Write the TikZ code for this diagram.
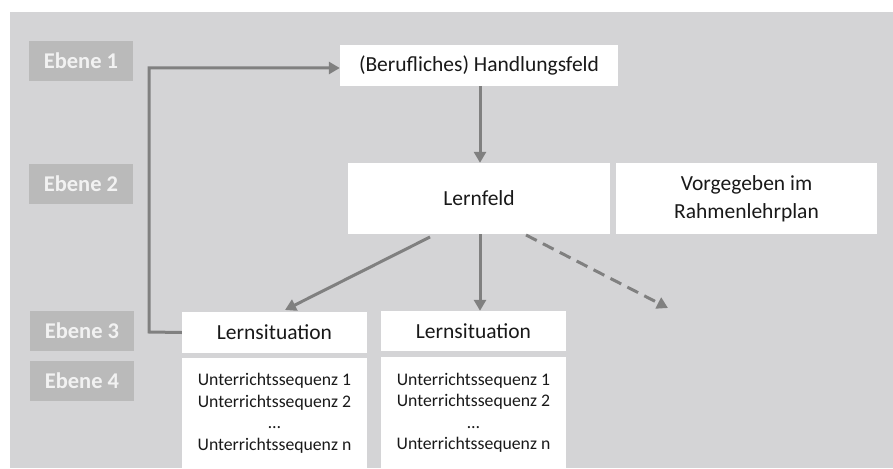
\documentclass[tikz,border=0pt]{standalone}
\usepackage{fontspec}
\setmainfont{Carlito}
\usetikzlibrary{arrows.meta}
\definecolor{bggray}{HTML}{D4D4D6}
\definecolor{lvgray}{HTML}{BABABA}
\definecolor{argray}{HTML}{808080}
\begin{document}
\begin{tikzpicture}[x=1pt,y=-1pt,
  level/.style={fill=lvgray,text=white!95!black,font=\fontsize{22.5}{26}\selectfont\bfseries,inner sep=0pt,minimum width=104pt,minimum height=40pt},
  wbox/.style={fill=white,inner sep=0pt,text=black!90,font=\fontsize{21.5}{28}\selectfont,align=center},
  seqbox/.style={fill=white,inner sep=0pt,text=black!90,font=\fontsize{17.7}{21.5}\selectfont,align=center},
  arr/.style={draw=argray,line width=3pt,-{Triangle[length=11pt,width=12pt]}}]
\useasboundingbox (0,0) rectangle (893,468);
\fill[bggray] (10,12) rectangle (893,468);
% level labels
\node[level] (e1) at (81,61) {Ebene 1};
\node[level] (e2) at (81,184) {Ebene 2};
\node[level] (e3) at (82,331) {Ebene 3};
\node[level] (e4) at (82,381) {Ebene 4};
% boxes
\node[wbox,minimum width=278pt,minimum height=41pt] (hf) at (479,65.5) {(Berufliches) Handlungsfeld};
\node[wbox,minimum width=262pt,minimum height=71pt] (lf) at (479,198.5) {Lernfeld};
\node[wbox,minimum width=261pt,minimum height=71pt] (vg) at (746.5,198.5) {Vorgegeben im\\Rahmenlehrplan};
\node[wbox,minimum width=185pt,minimum height=41pt] (ls1) at (274.5,332.5) {Lernsituation};
\node[wbox,minimum width=185pt,minimum height=40pt] (ls2) at (473.5,331) {Lernsituation};
\node[seqbox,minimum width=185pt,minimum height=110pt,anchor=north] (sq1) at (274.5,358) {Unterrichtssequenz 1\\Unterrichtssequenz 2\\…\\Unterrichtssequenz n};
\node[seqbox,minimum width=185pt,minimum height=111pt,anchor=north] (sq2) at (473.5,357) {Unterrichtssequenz 1\\Unterrichtssequenz 2\\…\\Unterrichtssequenz n};
% arrows
\coordinate (fbl) at (149,332);
\coordinate (fbt) at (149,68);
\draw[arr] (ls1.west) -- (fbl) -- (fbt) -- (hf.west |- fbt);
\draw[arr] (hf.south -| 480,0) -- (lf.north -| 480,0);
\coordinate (lfa) at (430,237);
\draw[arr] (lfa) -- (285,310);
\draw[arr] (lf.south -| 480,0) -- (ls2.north -| 480,0);
\coordinate (lfb) at (526,235);
\coordinate (dend) at (668,308);
\draw[arr,dashed,dash pattern=on 12pt off 7pt] (lfb) -- (dend);
\end{tikzpicture}
\end{document}
